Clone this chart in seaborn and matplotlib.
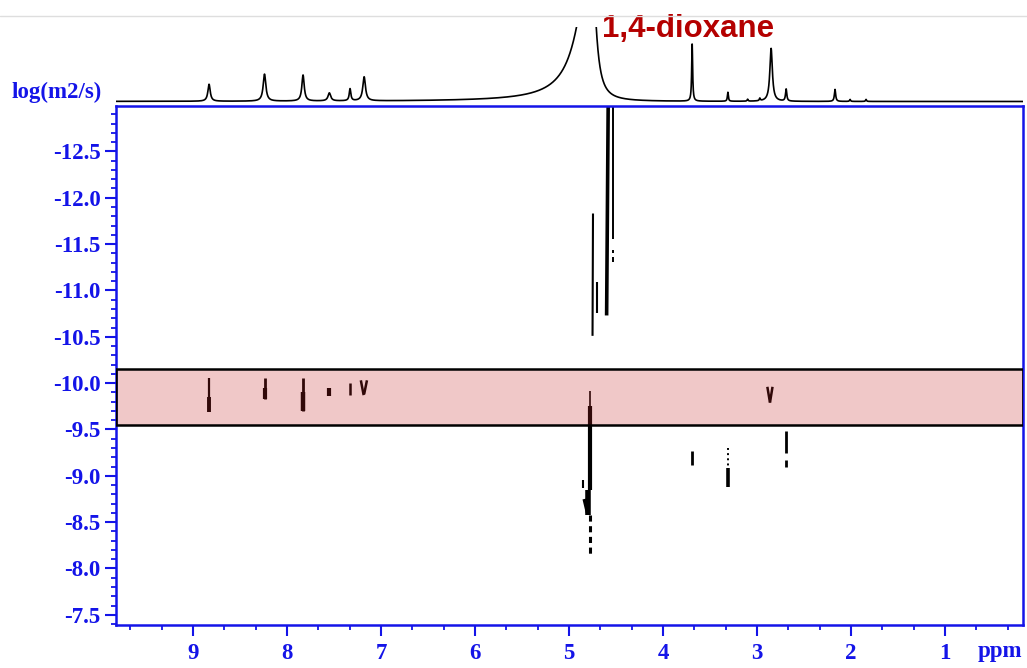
import numpy as np
import matplotlib
matplotlib.use("Agg")
import matplotlib.pyplot as plt
import seaborn as sns
from matplotlib.lines import Line2D
from matplotlib.ticker import MultipleLocator, FormatStrFormatter

# ── 1D projection (peak list) ───────────────────────────────────────────────
spec_ppm    = [8.83, 8.24, 7.83, 7.55, 7.33, 7.18, 4.76, 3.69, 3.31, 3.10,
               2.97, 2.85, 2.69, 2.17, 2.01, 1.84]
spec_height = [17, 27, 26, 8, 12, 24, 150, 57.5, 9, 2, 2.5, 53, 12, 12, 2, 2]
spec_w_left = [0.015, 0.017, 0.015, 0.017, 0.01, 0.017, 0.159, 0.006, 0.006,
               0.006, 0.006, 0.016, 0.008, 0.008, 0.006, 0.006]
spec_w_right = [0.015, 0.017, 0.015, 0.017, 0.01, 0.017, 0.049, 0.006, 0.006,
                0.006, 0.006, 0.016, 0.008, 0.008, 0.006, 0.006]

# ── 2D DOSY cross peaks: ppm at top / bottom, logD top / bottom, width ─────
streak_ppm_top = [8.83, 8.83, 8.24, 8.24, 7.83, 7.83, 7.55, 7.33, 7.215, 7.15,
                  2.89, 2.835,
                  4.582, 4.53, 4.53, 4.53, 4.745, 4.70,
                  4.78, 4.78, 4.80, 4.835, 4.78, 4.85,
                  3.69, 3.31, 3.31, 2.69, 2.69]
streak_ppm_bot = [8.83, 8.83, 8.24, 8.24, 7.83, 7.83, 7.55, 7.33, 7.185, 7.18,
                  2.862, 2.862,
                  4.60, 4.53, 4.53, 4.53, 4.75, 4.70,
                  4.78, 4.78, 4.80, 4.80, 4.78, 4.85,
                  3.69, 3.31, 3.31, 2.69, 2.69]
streak_top = [-10.06, -9.85, -10.06, -9.95, -10.06, -9.90, -9.95, -10.00, -10.03, -10.03,
              -9.96, -9.96,
              -13.2, -13.2, -11.44, -11.36, -11.83, -11.09,
              -9.91, -9.75, -8.85, -8.75, -8.58, -8.95,
              -9.27, -9.30, -9.08, -9.48, -9.17]
streak_bot = [-9.69, -9.69, -9.83, -9.83, -9.70, -9.70, -9.86, -9.87, -9.87, -9.88,
              -9.79, -9.79,
              -10.73, -11.55, -11.40, -11.31, -10.51, -10.76,
              -9.75, -8.85, -8.58, -8.60, -8.13, -8.87,
              -9.12, -9.10, -8.88, -9.25, -9.09]
streak_lw = [1.6, 2.8, 2.0, 3.0, 2.0, 3.2, 3.0, 1.8, 1.8, 1.8,
             1.8, 1.8,
             2.6, 1.4, 1.4, 1.4, 1.5, 1.5,
             1.2, 3.0, 4.0, 3.0, 2.2, 1.5,
             2.0, 1.4, 2.6, 2.0, 2.0]
streak_ls = ["-"] * 24 + ["-", ":", "-", "-", "-"]
streak_ls[22] = (0, (2, 1.5))

band_lo, band_hi = -10.15, -9.55
label_text = "1,4-dioxane"

BLUE = "#1414e8"
XLIM = (9.82, 0.17)
YLIM = (-7.39, -12.99)

sns.set_style("white")
plt.rcParams["font.family"] = ["Liberation Serif", "DejaVu Serif"]
plt.rcParams["axes.unicode_minus"] = False

fig = plt.figure(figsize=(10.27, 6.68), dpi=100)
W, H = 1027, 668

# screenshot edge line
fig.add_artist(Line2D([0, 1], [1 - 16 / H] * 2, color="#dedede", lw=1))

# ── main 2D axes ────────────────────────────────────────────────────────────
ax = fig.add_axes([116 / W, (H - 625) / H, 907 / W, 519 / H])
ax.set_xlim(*XLIM)
ax.set_ylim(*YLIM)
for s in ax.spines.values():
    s.set_color(BLUE)
    s.set_linewidth(1.8)
    s.set_visible(True)

for x0, x1, t, b, lw, ls in zip(streak_ppm_top, streak_ppm_bot, streak_top,
                                streak_bot, streak_lw, streak_ls):
    ax.plot([x0, x1], [t, b], color="black", linewidth=lw, linestyle=ls,
            solid_capstyle="butt", zorder=2)

ax.axhspan(band_lo, band_hi, facecolor=(196 / 255, 36 / 255, 36 / 255, 0.25),
           edgecolor="black", linewidth=1.8, zorder=3)

ax.yaxis.set_major_locator(MultipleLocator(0.5))
ax.yaxis.set_minor_locator(MultipleLocator(0.1))
ax.yaxis.set_major_formatter(FormatStrFormatter("%.1f"))
ax.xaxis.set_major_locator(MultipleLocator(1))
ax.xaxis.set_minor_locator(MultipleLocator(1 / 3))
ax.xaxis.set_major_formatter(FormatStrFormatter("%d"))
ax.tick_params(axis="both", which="both", direction="out", colors=BLUE,
               left=True, bottom=True, right=False, top=False)
ax.tick_params(axis="both", which="major", length=8, width=1.5, labelsize=16.5)
ax.tick_params(axis="both", which="minor", length=3.5, width=1.3)
ax.tick_params(axis="x", which="major", pad=5)
ax.tick_params(axis="y", which="major", pad=3)
for lbl in ax.get_xticklabels() + ax.get_yticklabels():
    lbl.set_fontweight("bold")
ax.grid(False)

# ── 1D projection on top ────────────────────────────────────────────────────
ax_top = fig.add_axes([116 / W, (H - 103) / H, 907 / W, 76 / H])
ppm_grid = np.linspace(XLIM[0], XLIM[1], 9000)
trace = np.zeros_like(ppm_grid)
for c, h, wl, wr in zip(spec_ppm, spec_height, spec_w_left, spec_w_right):
    w = np.where(ppm_grid >= c, wl, wr)
    trace += h * w ** 2 / ((ppm_grid - c) ** 2 + w ** 2)
sns.lineplot(x=ppm_grid, y=trace, ax=ax_top, color="black", linewidth=1.2,
             sort=False)
ax_top.set_xlim(*XLIM)
ax_top.set_ylim(-1.5, 74.5)
ax_top.axis("off")

ax_top.text(4.645, 72.5, label_text, color="#b40000", fontsize=22.5,
            fontweight="bold", family=["Liberation Sans", "DejaVu Sans"],
            ha="left", va="center", clip_on=False)

fig.text(12 / W, 1 - 92 / H, "log(m2/s)", color=BLUE, fontsize=16.5,
         fontweight="bold", ha="left", va="center")
fig.text(1022 / W, 1 - 652 / H, "ppm", color=BLUE, fontsize=16.5,
         fontweight="bold", ha="right", va="center")

fig.savefig("out.png", dpi=100)
